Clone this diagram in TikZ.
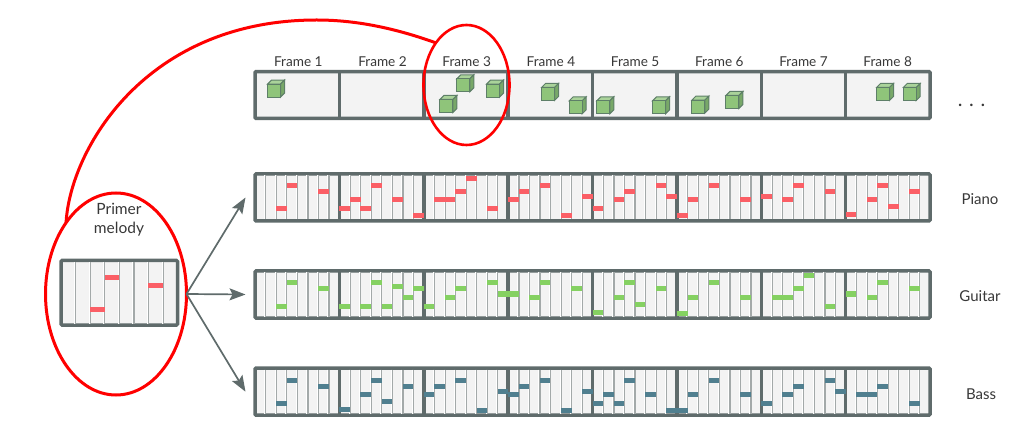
\documentclass[tikz,border=0pt]{standalone}
\usepackage{fontspec}
\setmainfont{Lato}
\usetikzlibrary{arrows.meta,shapes.geometric}
\definecolor{framegray}{HTML}{5F6B6B}
\definecolor{cellgray}{HTML}{F3F3F3}
\definecolor{sepgray}{HTML}{A3A9A9}
\definecolor{pianored}{HTML}{FB5F66}
\definecolor{guitargreen}{HTML}{85D162}
\definecolor{bassblue}{HTML}{507F8F}
\definecolor{cubefront}{HTML}{8FC47A}
\definecolor{cubetop}{HTML}{AAD39A}
\definecolor{cubeside}{HTML}{78A868}
\definecolor{cubeline}{HTML}{5E7F68}
\definecolor{ringred}{HTML}{FF0000}
\tikzset{
  rollbox/.style={draw=framegray,fill=cellgray,line width=3.5pt,rounded corners=1pt,outer sep=0pt,inner sep=0pt},
  ring/.style={draw=ringred,ellipse,line width=3pt,outer sep=0pt,inner sep=0pt},
  label/.style={text=black!78,font=\fontsize{13.6}{16}\selectfont,inner sep=0pt},
  sidelabel/.style={text=black!78,font=\fontsize{15}{18}\selectfont,inner sep=0pt},
  flow/.style={draw=framegray,line width=1.7pt,-{Stealth[length=16pt,width=12pt,inset=3pt]}},
  cellsep/.style={sepgray,line width=1.2pt},
  cellgap/.style={white,line width=1pt},
}
% name, centre y, colour, notes
\newcommand{\rollstrip}[4]{
  \node[rollbox,minimum width=675pt,minimum height=47pt] (#1) at (592.5,#2) {};
  \coordinate (#1tip) at ([xshift=-9.5pt]#1.west);
  \foreach \n in {1,...,63} {
    \draw[cellgap] ({255+10.55*\n-.9},{#2-22}) -- ({255+10.55*\n-.9},{#2+22});
    \draw[cellsep] ({255+10.55*\n+.2},{#2-22}) -- ({255+10.55*\n+.2},{#2+22});
  }
  \foreach \n in {1,...,7} {
    \draw[framegray,line width=3.5pt] ({255+84.375*\n},{#2-23.5}) -- ({255+84.375*\n},{#2+23.5});
  }
  \foreach \n/\h in {#4} {
    \fill[#3] ({255+10.55*(\n+.5)-5.3},{#2-23.5+\h-2.5}) rectangle ++(10.6,5);
  }
}
\begin{document}
\begin{tikzpicture}[x=1pt,y=-1pt]
\useasboundingbox (0,0) rectangle (1024,427);

\foreach \n in {1,...,8} {
  \node[label,name=frame\n] at ({298.3+84.2*(\n-1)},62) {Frame \n};
}
\node[rollbox,minimum width=675pt,minimum height=46.6pt] (frames) at (592.5,95) {};
\foreach \n in {1,...,7} {
  \draw[framegray,line width=3.5pt] ({255+84.375*\n},71.7) -- ({255+84.375*\n},118.3);
}
\foreach \cx/\cy in {274/90.7,463.3/85.3,493/90.7,446.3/106,548/94,575.7/107.3,603.3/107.3,659/107.3,698.3/106.7,732.3/102,883/94,909.7/94} {
  \draw[cubeline,line width=1pt,fill=cubetop] (\cx-6.5,\cy-6.5) -- ++(4,-4) -- ++(13,0) -- ++(-4,4) -- cycle;
  \draw[cubeline,line width=1pt,fill=cubeside] (\cx+6.5,\cy-6.5) -- ++(4,-4) -- ++(0,13) -- ++(-4,4) -- cycle;
  \draw[cubeline,line width=1pt,fill=cubefront] (\cx-6.5,\cy-6.5) rectangle ++(13,13);
}
\node[sidelabel,font=\fontsize{20}{22}\selectfont,anchor=base] (dots) at (971.5,107) {.\,\,.\,\,.};

\rollstrip{piano}{197.5}{pianored}{2/35,3/12,6/18,8/35,9/26,10/35,11/12,13/26,15/42,17/26,18/26,19/18,20/5,22/35,24/26,25/18,27/12,29/42,31/23,32/35,34/26,35/18,38/12,39/23,40/42,41/26,43/12,46/26,48/23,50/26,51/12,54/18,56/41,58/26,59/12,60/33,62/18}
\rollstrip{guitar}{294.5}{guitargreen}{2/35,3/12,6/18,8/35,10/35,11/12,12/35,13/16,14/26,15/18,16/35,18/26,19/18,22/12,23/23,24/23,26/26,27/12,30/18,32/41,34/26,35/12,36/33,38/18,40/42,41/26,43/12,46/26,49/26,50/26,51/18,52/5,54/35,56/23,58/26,59/12,62/18}
\rollstrip{bass}{391.7}{bassblue}{2/35,3/12,6/18,8/41,10/26,11/12,12/33,14/18,16/26,17/18,19/12,21/42,23/23,24/26,25/18,27/12,29/42,31/23,32/35,33/26,34/35,35/12,37/26,39/42,40/42,41/26,43/12,46/26,48/35,50/26,51/18,54/12,55/23,57/26,58/26,59/18,62/35}

\node[sidelabel] (pianolabel) at (980,199) {Piano};
\node[sidelabel] (guitarlabel) at (980,296) {Guitar};
\node[sidelabel] (basslabel) at (981,394) {Bass};

\node[rollbox,minimum width=116.5pt,minimum height=64.5pt] (melody) at (119.25,292.75) {};
\foreach \n in {1,...,7} {
  \draw[cellgap] ({61+14.56*\n-.9},262) -- ({61+14.56*\n-.9},323.5);
  \draw[cellsep] ({61+14.56*\n+.2},262) -- ({61+14.56*\n+.2},323.5);
}
\foreach \n/\h in {2/48.5,3/17,6/25.5} {
  \fill[pianored] ({61+14.56*(\n+.5)-7.3},{260.5+\h-2.5}) rectangle ++(14.6,5);
}
\node[sidelabel,align=center,font=\fontsize{15.5}{19}\selectfont] (primertext) at (119,219.5) {Primer\\melody};

\node[ring,minimum width=141pt,minimum height=202pt] (primer) at (116,294) {};
\node[ring,line width=2.6pt,minimum width=86pt,minimum height=120pt] (framering) at (466.5,85) {};
\draw[ringred,line width=3pt] (primer.125) .. controls (70,150) and (145,20) .. (316.7,20) .. controls (360,20) and (400,30) .. (framering.126);

\draw[flow] (primer.east) -- (pianotip);
\draw[flow] (primer.east) -- (guitartip);
\draw[flow] (primer.east) -- (basstip);
\end{tikzpicture}
\end{document}
